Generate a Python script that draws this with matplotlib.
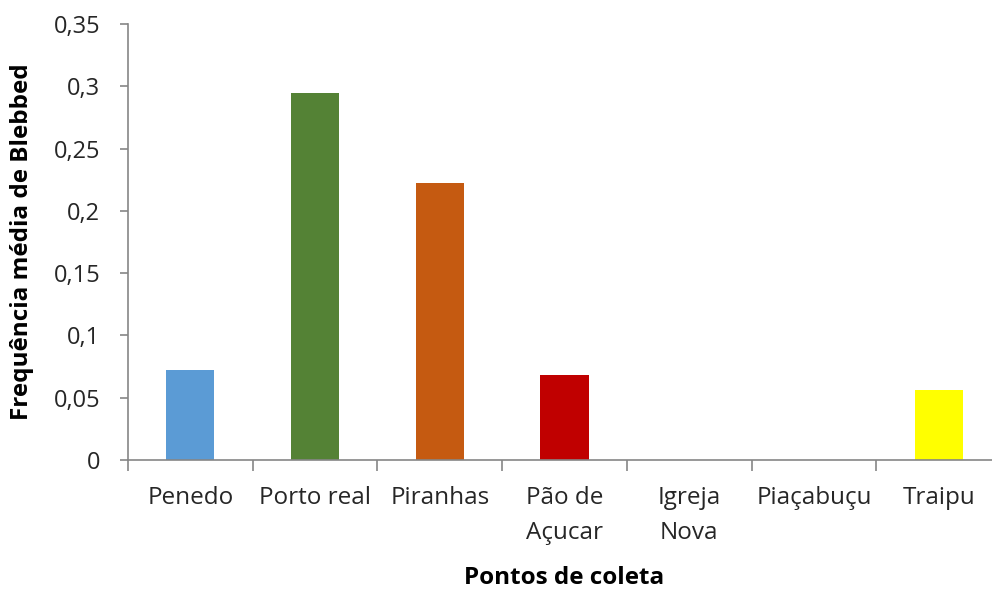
import numpy as np
import matplotlib.pyplot as plt

# data
pontos = ['Penedo', 'Porto real', 'Piranhas', 'Pão de\nAçucar', 'Igreja\nNova', 'Piaçabuçu', 'Traipu']
frequencia = [0.072, 0.295, 0.222, 0.068, 0.0, 0.0, 0.056]
cores = ['#5B9BD5', '#548235', '#C55A11', '#C00000', '#A5A5A5', '#4472C4', '#FFFF00']
yticks = [0, 0.05, 0.1, 0.15, 0.2, 0.25, 0.3, 0.35]
ytick_labels = ['0', '0,05', '0,1', '0,15', '0,2', '0,25', '0,3', '0,35']

plt.rcParams['font.family'] = ['Open Sans', 'DejaVu Sans']
axis_gray = '#868686'
text_col = '#262626'

fig = plt.figure(figsize=(9.92, 5.92), dpi=100)
ax = fig.add_axes([128 / 992, 1 - 460 / 592, 873 / 992, (460 - 24) / 592])

x = np.arange(len(pontos))
ax.bar(x, frequencia, width=0.385, color=cores)

ax.set_xlim(-0.5, len(pontos) - 0.5)
ax.set_ylim(0, 0.35)

ax.set_yticks(yticks)
ax.set_yticklabels(ytick_labels, fontsize=17, color=text_col)
ax.tick_params(axis='y', length=6, width=1.2, color=axis_gray, pad=14)

ax.set_xticks(x)
ax.set_xticklabels(pontos, fontsize=17.5, color=text_col, linespacing=1.6, va='top')
ax.tick_params(axis='x', which='major', length=0, pad=19)
ax.set_xticks(np.arange(len(pontos) + 1) - 0.5, minor=True)
ax.tick_params(axis='x', which='minor', length=8, width=1.2, color=axis_gray)

for s in ['top', 'right']:
    ax.spines[s].set_visible(False)
for s in ['left', 'bottom']:
    ax.spines[s].set_color(axis_gray)
    ax.spines[s].set_linewidth(1.2)

fig.text(564 / 992, 1 - 578 / 592, 'Pontos de coleta', fontsize=17.5, fontweight='bold',
         ha='center', va='center', color='black')
fig.text(22 / 992, 1 - 242 / 592, 'Frequência média de Blebbed', fontsize=17.5, fontweight='bold',
         ha='center', va='center', rotation=90, color='black')

fig.savefig('out.png', dpi=100)
